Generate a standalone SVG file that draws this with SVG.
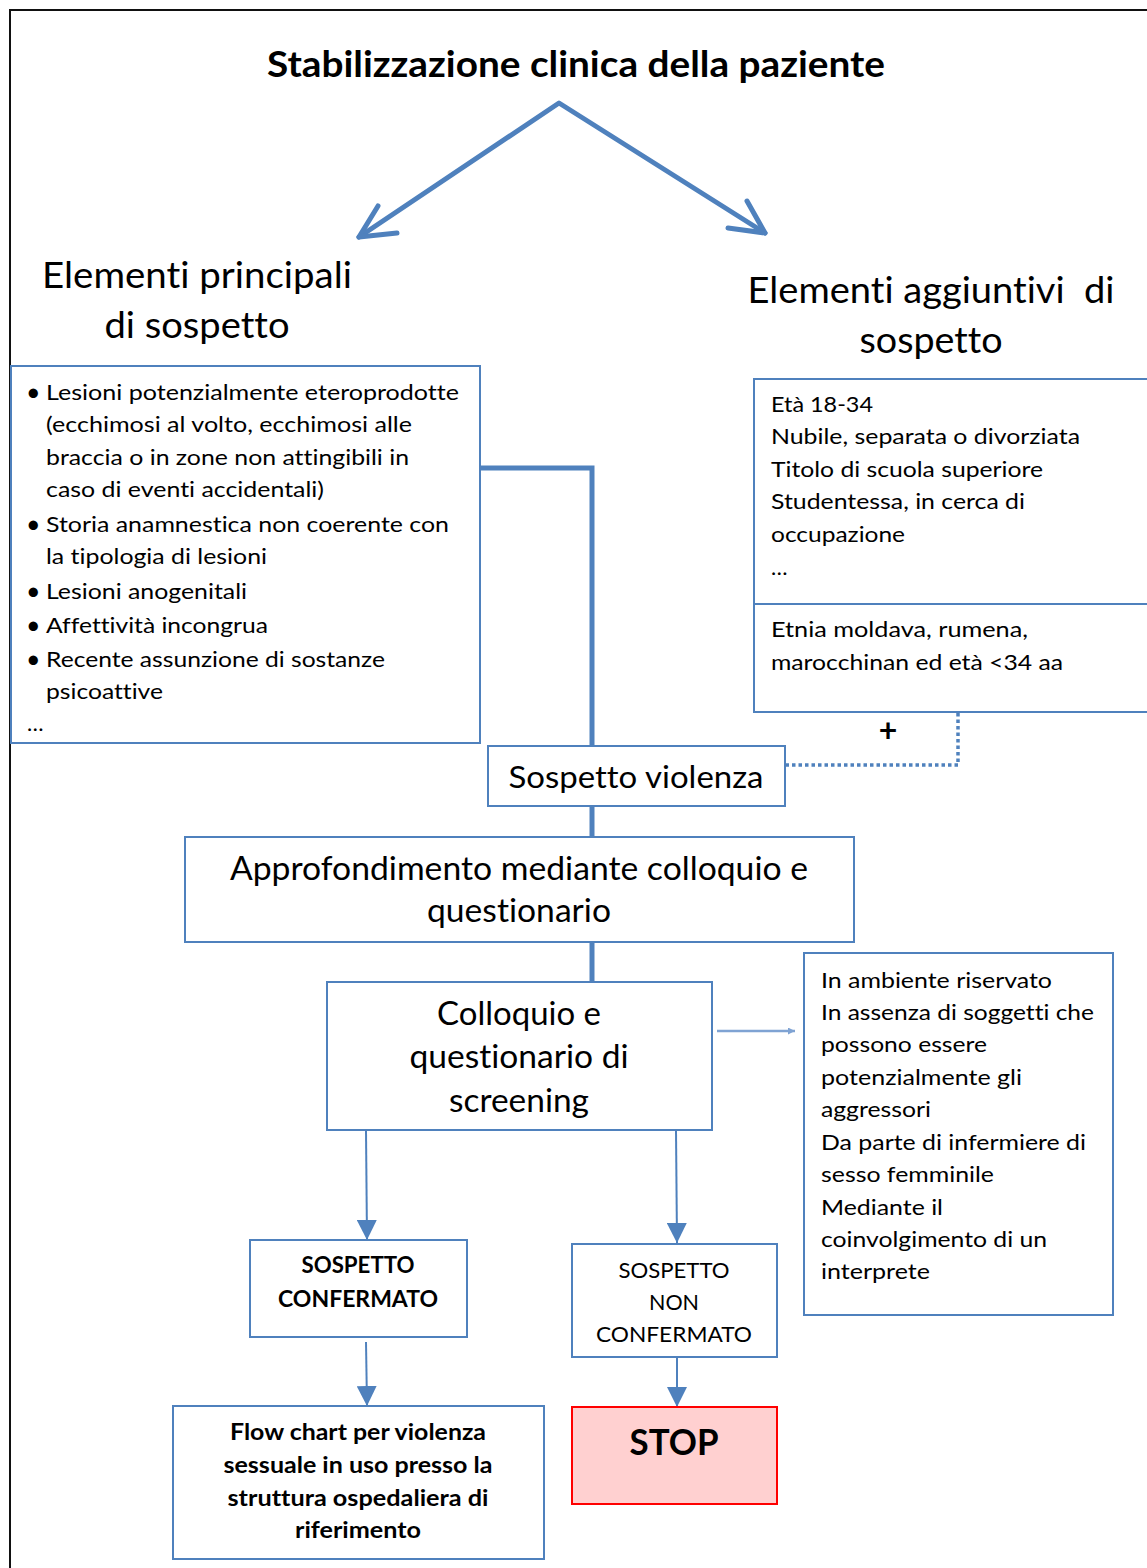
<svg xmlns="http://www.w3.org/2000/svg" width="1147" height="1568" viewBox="0 0 1147 1568">
<style>
text{font-family:Lato,"Open Sans","Liberation Sans",sans-serif;fill:#000;font-variant-ligatures:none;font-feature-settings:"liga" 0,"clig" 0;white-space:pre}
.b{font-weight:bold}
.box{fill:#fff;stroke:#4F81BD;stroke-width:2}
.t22{font-size:22px}
.t32{font-size:32px}
.t36{font-size:36px}
.c{text-anchor:middle}
.thick{fill:none;stroke:#4F81BD;stroke-width:5}
.thin{fill:none;stroke:#4F81BD;stroke-width:2}
</style>
<defs>
<marker id="tri" viewBox="0 0 10 10" refX="10" refY="5" markerWidth="20" markerHeight="20" markerUnits="userSpaceOnUse" orient="auto">
<path d="M0,0 L10,5 L0,10 z" fill="#4F81BD"/>
</marker>
<marker id="small" viewBox="0 0 10 10" refX="10" refY="5" markerWidth="7" markerHeight="7" markerUnits="userSpaceOnUse" orient="auto">
<path d="M0,0 L10,5 L0,10 z" fill="#7FA3D3"/>
</marker>
</defs>
<rect width="1147" height="1568" fill="#fff"/>
<path d="M10,1568 V10 H1147" fill="none" stroke="#111" stroke-width="2"/>

<g id="title"><text class="b t36 c" x="576" y="77" textLength="618" lengthAdjust="spacingAndGlyphs">Stabilizzazione clinica della paziente</text></g>

<g id="connectors">
<g fill="none" stroke="#4F81BD" stroke-width="5" stroke-linecap="round" stroke-linejoin="round">
<polyline points="359,237 559,103 765,233"/>
<polyline points="378,206 359,237 397,233"/>
<polyline points="747,201 765,233 728,228"/>
</g>
<polyline class="thick" points="480,468 592,468 592,746"/>
<line class="thick" x1="592" y1="806" x2="592" y2="837"/>
<line class="thick" x1="592" y1="942" x2="592" y2="982"/>
<polyline points="958,713 958,765 786,765" fill="none" stroke="#4F81BD" stroke-width="3.5" stroke-dasharray="3.5 3"/>
<line x1="717" y1="1031" x2="795" y2="1031" stroke="#7FA3D3" stroke-width="2.5" marker-end="url(#small)"/>
<line class="thin" x1="366" y1="1131" x2="367" y2="1240" marker-end="url(#tri)"/>
<line class="thin" x1="676" y1="1131" x2="677" y2="1243" marker-end="url(#tri)"/>
<line class="thin" x1="366" y1="1342" x2="367" y2="1406" marker-end="url(#tri)"/>
<line class="thin" x1="677" y1="1358" x2="677" y2="1407" marker-end="url(#tri)"/>
</g>

<g id="hdr-principali">
<text class="t36 c" x="197" y="288" textLength="310" lengthAdjust="spacingAndGlyphs">Elementi principali</text>
<text class="t36 c" x="197" y="338" textLength="185" lengthAdjust="spacingAndGlyphs">di sospetto</text>
</g>
<g id="hdr-aggiuntivi">
<text class="t36 c" x="931" y="303" textLength="367" lengthAdjust="spacingAndGlyphs" xml:space="preserve">Elementi aggiuntivi  di</text>
<text class="t36 c" x="931" y="353" textLength="143" lengthAdjust="spacingAndGlyphs">sospetto</text>
</g>

<g id="box-principali">
<rect class="box" x="11" y="366" width="469" height="377"/>
<g class="t22">
<text x="26" y="401" font-size="25">•</text>
<text x="26" y="533" font-size="25">•</text>
<text x="26" y="600" font-size="25">•</text>
<text x="26" y="634" font-size="25">•</text>
<text x="26" y="668" font-size="25">•</text>
<text x="46" y="400" textLength="413" lengthAdjust="spacingAndGlyphs">Lesioni potenzialmente eteroprodotte</text>
<text x="46" y="432" textLength="366" lengthAdjust="spacingAndGlyphs">(ecchimosi al volto, ecchimosi alle</text>
<text x="46" y="465" textLength="363" lengthAdjust="spacingAndGlyphs">braccia o in zone non attingibili in</text>
<text x="46" y="497" textLength="278" lengthAdjust="spacingAndGlyphs">caso di eventi accidentali)</text>
<text x="46" y="532" textLength="403" lengthAdjust="spacingAndGlyphs">Storia anamnestica non coerente con</text>
<text x="46" y="564" textLength="221" lengthAdjust="spacingAndGlyphs">la tipologia di lesioni</text>
<text x="46" y="599" textLength="201" lengthAdjust="spacingAndGlyphs">Lesioni anogenitali</text>
<text x="46" y="633" textLength="222" lengthAdjust="spacingAndGlyphs">Affettività incongrua</text>
<text x="46" y="667" textLength="339" lengthAdjust="spacingAndGlyphs">Recente assunzione di sostanze</text>
<text x="46" y="699" textLength="117" lengthAdjust="spacingAndGlyphs">psicoattive</text>
<text x="27" y="731">…</text>
</g>
</g>

<g id="box-aggiuntivi">
<rect class="box" x="754" y="379" width="420" height="333"/>
<line x1="754" y1="604" x2="1147" y2="604" stroke="#4F81BD" stroke-width="2"/>
<g class="t22">
<text x="771" y="412" textLength="102" lengthAdjust="spacingAndGlyphs">Età 18-34</text>
<text x="771" y="444" textLength="309" lengthAdjust="spacingAndGlyphs">Nubile, separata o divorziata</text>
<text x="771" y="477" textLength="272" lengthAdjust="spacingAndGlyphs">Titolo di scuola superiore</text>
<text x="771" y="509" textLength="254" lengthAdjust="spacingAndGlyphs">Studentessa, in cerca di</text>
<text x="771" y="542" textLength="134" lengthAdjust="spacingAndGlyphs">occupazione</text>
<text x="771" y="575">…</text>
<text x="771" y="637" textLength="257" lengthAdjust="spacingAndGlyphs">Etnia moldava, rumena,</text>
<text x="771" y="670" textLength="292" lengthAdjust="spacingAndGlyphs">marocchinan ed età &lt;34 aa</text>
</g>
</g>

<g id="plus"><text class="b c" x="888" y="742" font-size="32">+</text></g>

<g id="sospetto-violenza">
<rect class="box" x="488" y="746" width="297" height="60"/>
<text class="c" x="636" y="788" font-size="31" textLength="255" lengthAdjust="spacingAndGlyphs">Sospetto violenza</text>
</g>

<g id="approfondimento">
<rect class="box" x="185" y="837" width="669" height="105"/>
<text class="t32 c" x="519" y="880" textLength="578" lengthAdjust="spacingAndGlyphs">Approfondimento mediante colloquio e</text>
<text class="t32 c" x="519" y="922" textLength="184" lengthAdjust="spacingAndGlyphs">questionario</text>
</g>

<g id="colloquio">
<rect class="box" x="327" y="982" width="385" height="148"/>
<text class="t32 c" x="519" y="1025" textLength="164" lengthAdjust="spacingAndGlyphs">Colloquio e</text>
<text class="t32 c" x="519" y="1068" textLength="219" lengthAdjust="spacingAndGlyphs">questionario di</text>
<text class="t32 c" x="519" y="1112" textLength="140" lengthAdjust="spacingAndGlyphs">screening</text>
</g>

<g id="modalita">
<rect class="box" x="804" y="953" width="309" height="362"/>
<g class="t22">
<text x="821" y="988" textLength="231" lengthAdjust="spacingAndGlyphs">In ambiente riservato</text>
<text x="821" y="1020" textLength="273" lengthAdjust="spacingAndGlyphs">In assenza di soggetti che</text>
<text x="821" y="1052" textLength="166" lengthAdjust="spacingAndGlyphs">possono essere</text>
<text x="821" y="1085" textLength="201" lengthAdjust="spacingAndGlyphs">potenzialmente gli</text>
<text x="821" y="1117" textLength="110" lengthAdjust="spacingAndGlyphs">aggressori</text>
<text x="821" y="1150" textLength="265" lengthAdjust="spacingAndGlyphs">Da parte di infermiere di</text>
<text x="821" y="1182" textLength="173" lengthAdjust="spacingAndGlyphs">sesso femminile</text>
<text x="821" y="1215" textLength="122" lengthAdjust="spacingAndGlyphs">Mediante il</text>
<text x="821" y="1247" textLength="226" lengthAdjust="spacingAndGlyphs">coinvolgimento di un</text>
<text x="821" y="1279" textLength="109" lengthAdjust="spacingAndGlyphs">interprete</text>
</g>
</g>

<g id="sospetto-confermato">
<rect class="box" x="250" y="1240" width="217" height="97"/>
<text class="b t22 c" x="358" y="1273" textLength="113" lengthAdjust="spacingAndGlyphs">SOSPETTO</text>
<text class="b t22 c" x="358" y="1307" textLength="160" lengthAdjust="spacingAndGlyphs">CONFERMATO</text>
</g>

<g id="sospetto-non-confermato">
<rect class="box" x="572" y="1244" width="205" height="113"/>
<text class="t22 c" x="674" y="1278" textLength="111" lengthAdjust="spacingAndGlyphs">SOSPETTO</text>
<text class="t22 c" x="674" y="1310" textLength="50" lengthAdjust="spacingAndGlyphs">NON</text>
<text class="t22 c" x="674" y="1342" textLength="156" lengthAdjust="spacingAndGlyphs">CONFERMATO</text>
</g>

<g id="flow-chart">
<rect class="box" x="173" y="1406" width="371" height="153"/>
<text class="b t22 c" x="358" y="1440" textLength="256" lengthAdjust="spacingAndGlyphs">Flow chart per violenza</text>
<text class="b t22 c" x="358" y="1473" textLength="269" lengthAdjust="spacingAndGlyphs">sessuale in uso presso la</text>
<text class="b t22 c" x="358" y="1506" textLength="261" lengthAdjust="spacingAndGlyphs">struttura ospedaliera di</text>
<text class="b t22 c" x="358" y="1538" textLength="126" lengthAdjust="spacingAndGlyphs">riferimento</text>
</g>

<g id="stop">
<rect x="572" y="1407" width="205" height="97" fill="#FFD0D0" stroke="#FF0000" stroke-width="2"/>
<text class="b t36 c" x="674" y="1455" textLength="89" lengthAdjust="spacingAndGlyphs">STOP</text>
</g>
</svg>
